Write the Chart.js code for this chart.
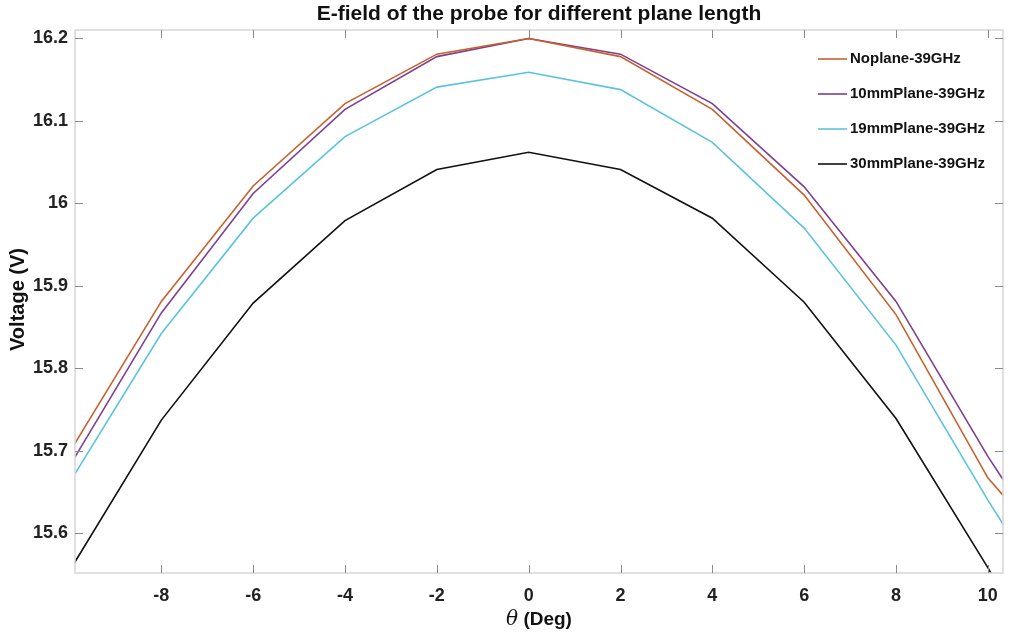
<!DOCTYPE html>
<html>
<head>
<meta charset="utf-8">
<script src="https://cdn.jsdelivr.net/npm/chart.js@4/dist/chart.umd.min.js"></script>
<style>
  body { margin: 0; background: #fff; }
  canvas { display: block; }
</style>
</head>
<body>
<canvas id="chart" width="1010" height="633"></canvas>
<script>
const thetas = [-10, -8, -6, -4, -2, 0, 2, 4, 6, 8, 10, 12];
const noPlane = [15.698, 15.881, 16.021, 16.121, 16.181, 16.200, 16.178, 16.114, 16.010, 15.865, 15.667, 15.539];
const plane10mm = [15.681, 15.867, 16.012, 16.114, 16.178, 16.200, 16.181, 16.121, 16.020, 15.881, 15.693, 15.523];
const plane19mm = [15.661, 15.842, 15.982, 16.081, 16.141, 16.159, 16.138, 16.074, 15.970, 15.828, 15.640, 15.464];
const plane30mm = [15.554, 15.737, 15.879, 15.979, 16.041, 16.062, 16.041, 15.982, 15.880, 15.739, 15.558, 15.358];

const seriesNames = ['Noplane-39GHz', '10mmPlane-39GHz', '19mmPlane-39GHz', '30mmPlane-39GHz'];
const seriesColors = ['#c8602c', '#7e3f92', '#5cc3df', '#111111'];

const xTicks = [-8, -6, -4, -2, 0, 2, 4, 6, 8, 10];
const yTicks = [15.6, 15.7, 15.8, 15.9, 16.0, 16.1, 16.2];

const FONT = "'Liberation Sans', Arial, sans-serif";

function toPoints(ys) {
    return thetas.map((t, i) => ({ x: t, y: ys[i] }));
}

const allSeries = [noPlane, plane10mm, plane19mm, plane30mm];

// box, inward ticks, titles and legend in MATLAB style
const matlabFrame = {
    id: 'matlabFrame',
    afterDraw(chart) {
        const ctx = chart.ctx;
        const a = chart.chartArea;
        const xs = chart.scales.x;
        const ys = chart.scales.y;
        ctx.save();

        // axes box
        ctx.strokeStyle = '#d6d6d6';
        ctx.lineWidth = 1.5;
        ctx.strokeRect(a.left, a.top, a.right - a.left, a.bottom - a.top);

        // inward tick marks
        ctx.strokeStyle = '#8a8a8a';
        ctx.lineWidth = 1;
        const tl = 8;
        xTicks.forEach(v => {
            const px = Math.round(xs.getPixelForValue(v)) + 0.5;
            ctx.beginPath();
            ctx.moveTo(px, a.bottom); ctx.lineTo(px, a.bottom - tl);
            ctx.moveTo(px, a.top); ctx.lineTo(px, a.top + tl);
            ctx.stroke();
        });
        yTicks.forEach(v => {
            const py = Math.round(ys.getPixelForValue(v)) + 0.5;
            ctx.beginPath();
            ctx.moveTo(a.left, py); ctx.lineTo(a.left + tl, py);
            ctx.moveTo(a.right, py); ctx.lineTo(a.right - tl, py);
            ctx.stroke();
        });

        // title
        ctx.fillStyle = '#111';
        ctx.textAlign = 'center';
        ctx.textBaseline = 'middle';
        ctx.font = 'bold 21px ' + FONT;
        ctx.fillText('E-field of the probe for different plane length', (a.left + a.right) / 2, 14);

        // x label: italic theta + bold text
        const cx = (a.left + a.right) / 2;
        ctx.font = 'italic 20px "DejaVu Serif", "Liberation Serif", serif';
        const thW = ctx.measureText('\u03B8').width;
        ctx.font = 'bold 19px ' + FONT;
        const restW = ctx.measureText(' (Deg)').width;
        let sx = cx - (thW + restW) / 2;
        ctx.textAlign = 'left';
        ctx.font = 'italic 20px "DejaVu Serif", "Liberation Serif", serif';
        ctx.fillText('\u03B8', sx, 620);
        ctx.font = 'bold 19px ' + FONT;
        ctx.fillText(' (Deg)', sx + thW, 620);

        // y label
        ctx.save();
        ctx.translate(18, (a.top + a.bottom) / 2 - 2);
        ctx.rotate(-Math.PI / 2);
        ctx.textAlign = 'center';
        ctx.font = 'bold 20px ' + FONT;
        ctx.fillText('Voltage (V)', 0, 0);
        ctx.restore();

        // legend
        ctx.font = 'bold 15px ' + FONT;
        ctx.textAlign = 'left';
        seriesNames.forEach((name, i) => {
            const y = 59 + i * 35;
            ctx.strokeStyle = seriesColors[i];
            ctx.lineWidth = 1.6;
            ctx.beginPath();
            ctx.moveTo(818, y); ctx.lineTo(847, y);
            ctx.stroke();
            ctx.fillStyle = '#111';
            ctx.fillText(name, 850, y);
        });

        ctx.restore();
    }
};

new Chart(document.getElementById('chart'), {
    type: 'line',
    data: {
        datasets: allSeries.map((ys, i) => ({
            label: seriesNames[i],
            data: toPoints(ys),
            borderColor: seriesColors[i],
            backgroundColor: seriesColors[i],
            borderWidth: 1.6,
            pointRadius: 0,
            tension: 0,
            fill: false
        }))
    },
    options: {
        responsive: false,
        animation: false,
        layout: { padding: { top: 30, right: 7, left: 0, bottom: 0 } },
        plugins: {
            legend: { display: false },
            title: { display: false },
            tooltip: { enabled: false }
        },
        scales: {
            x: {
                type: 'linear',
                min: -9.88,
                max: 10.33,
                afterFit: s => { s.height = 60; },
                afterBuildTicks: s => { s.ticks = xTicks.map(v => ({ value: v })); },
                grid: { display: false, drawTicks: false },
                border: { display: false },
                ticks: {
                    padding: 12,
                    color: '#222',
                    font: { family: FONT, size: 18, weight: 'bold' },
                    callback: v => String(v)
                }
            },
            y: {
                min: 15.5515,
                max: 16.2103,
                afterFit: s => { s.width = 75; },
                afterBuildTicks: s => { s.ticks = yTicks.map(v => ({ value: v })); },
                grid: { display: false, drawTicks: false },
                border: { display: false },
                ticks: {
                    padding: 7,
                    color: '#222',
                    font: { family: FONT, size: 18, weight: 'bold' },
                    callback: v => String(Number(v.toFixed(1)))
                }
            }
        }
    },
    plugins: [matlabFrame]
});
</script>
</body>
</html>
